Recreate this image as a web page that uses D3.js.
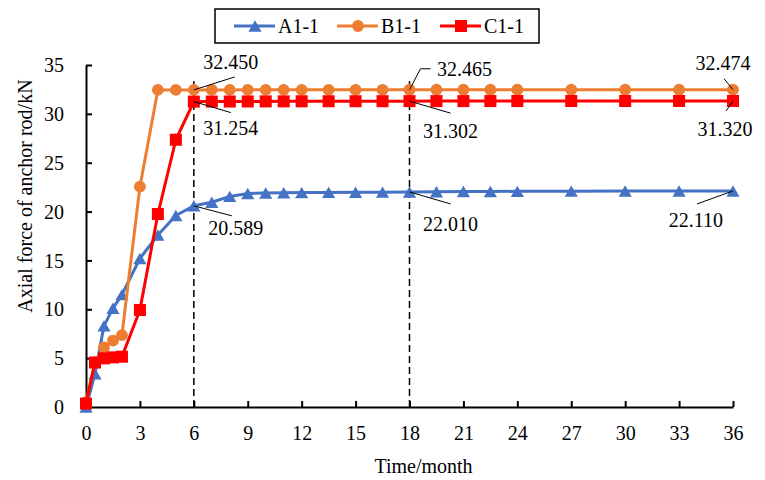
<!DOCTYPE html>
<html>
<head>
<meta charset="utf-8">
<script src="https://cdn.jsdelivr.net/npm/d3@7"></script>
<style>
  html, body { margin: 0; padding: 0; background: #fff; }
  svg { display: block; }
  text { font-family: "Liberation Serif", "Times New Roman", serif !important; fill: #000; }
</style>
</head>
<body>
<svg id="chart" width="765" height="480"></svg>
<script>
// ---------- data ----------
const months = [0, 0.5, 1, 1.5, 2, 3, 4, 5, 6, 7, 8, 9, 10, 11, 12, 13.5, 15, 16.5, 18, 19.5, 21, 22.5, 24, 27, 30, 33, 36];
const seriesNames = ["A1-1", "B1-1", "C1-1"];
const valuesA1 = [0, 3.4, 8.3, 10.1, 11.5, 15.2, 17.6, 19.6, 20.589, 20.95, 21.55, 21.85, 21.9, 21.92, 21.94, 21.96, 21.98, 21.99, 22.010, 22.03, 22.05, 22.06, 22.07, 22.09, 22.1, 22.1, 22.110];
const valuesB1 = [0.5, 4.6, 6.1, 6.8, 7.35, 22.55, 32.45, 32.45, 32.450, 32.452, 32.454, 32.455, 32.456, 32.457, 32.458, 32.459, 32.46, 32.462, 32.465, 32.466, 32.467, 32.468, 32.469, 32.47, 32.472, 32.473, 32.474];
const valuesC1 = [0.35, 4.55, 4.98, 5.08, 5.15, 9.93, 19.75, 27.35, 31.254, 31.26, 31.265, 31.27, 31.275, 31.28, 31.285, 31.29, 31.293, 31.297, 31.302, 31.305, 31.307, 31.31, 31.312, 31.315, 31.317, 31.318, 31.320];
const xTicks = [0, 3, 6, 9, 12, 15, 18, 21, 24, 27, 30, 33, 36];
const yTicks = [0, 5, 10, 15, 20, 25, 30, 35];
const markLines = [6, 18];
// annotations: series index, month, label
const annSeries = [1, 2, 0, 1, 2, 0, 1, 2, 0];
const annMonths = [6, 6, 6, 18, 18, 18, 36, 36, 36];
const annLabels = ["32.450", "31.254", "20.589", "32.465", "31.302", "22.010", "32.474", "31.320", "22.110"];

const colors = ["#4472C4", "#ED7D31", "#FF0000"];
const shapes = [d3.symbolTriangle, d3.symbolCircle, d3.symbolSquare];
const symSizes = [75, 110, 145];
const symShift = [1.9, 0, 0]; // centre triangle bounding box on the point
const allValues = [valuesA1, valuesB1, valuesC1];

// ---------- scales ----------
const svg = d3.select("#chart");
const x = d3.scaleLinear().domain([0, 36]).range([86, 733]);
const y = d3.scaleLinear().domain([0, 35]).range([407, 65]);

// ---------- axes ----------
const xAxis = d3.axisBottom(x).tickValues(xTicks).tickSizeInner(-6).tickSizeOuter(0).tickPadding(0);
const gx = svg.append("g").attr("transform", `translate(0,${y(0)})`).call(xAxis);
gx.attr("font-family", null);
gx.select(".domain").attr("stroke", "#000").attr("stroke-width", 2);
gx.selectAll(".tick line").attr("stroke", "#000").attr("stroke-width", 2);
gx.selectAll(".tick text").attr("font-size", 20)
  .attr("y", 32.5).attr("dy", 0).attr("fill", "#000");

const yAxis = d3.axisLeft(y).tickValues(yTicks).tickSizeInner(-6).tickSizeOuter(0).tickPadding(0);
const gy = svg.append("g").attr("transform", `translate(${x(0)},0)`).call(yAxis);
gy.attr("font-family", null);
gy.select(".domain").attr("stroke", "#000").attr("stroke-width", 2);
gy.selectAll(".tick line").attr("stroke", "#000").attr("stroke-width", 2);
gy.selectAll(".tick text").attr("font-size", 20)
  .attr("x", -22).attr("dy", "0.33em").attr("fill", "#000");

// axis titles
svg.append("text").attr("x", (x(0) + x(36)) / 2 + 14).attr("y", 473)
  .attr("text-anchor", "middle").attr("font-size", 20).text("Time/month");
svg.append("text").attr("transform", `translate(32,${196}) rotate(-90)`)
  .attr("text-anchor", "middle").attr("font-size", 20).text("Axial force of anchor rod/kN");

// dashed reference lines
svg.selectAll(".vline").data(markLines).enter().append("line")
  .attr("x1", d => x(d)).attr("x2", d => x(d))
  .attr("y1", y(0)).attr("y2", y(33.5))
  .attr("stroke", "#000").attr("stroke-width", 1.5).attr("stroke-dasharray", "7,4");

// ---------- series ----------
const line = d3.line().x((d, i) => x(months[i])).y(d => y(d));
allValues.forEach((vals, s) => {
  const g = svg.append("g");
  g.append("path").datum(vals).attr("d", line)
    .attr("fill", "none").attr("stroke", colors[s]).attr("stroke-width", 3).attr("stroke-linejoin", "round");
  g.selectAll("path.m").data(vals).enter().append("path").attr("class", "m")
    .attr("d", d3.symbol().type(shapes[s]).size(symSizes[s]))
    .attr("transform", (d, i) => `translate(${x(months[i])},${y(d) + symShift[s]})`)
    .attr("fill", colors[s]);
});

// ---------- annotations ----------
// offsets (text centre, leader end) relative to the point
const annOffsets = [
  { tx: 37, ty: -28, lx: 41, ly: -13 },
  { tx: 37, ty: 27, lx: 37, ly: 11 },
  { tx: 42, ty: 23, lx: 38, ly: 10 },
  { tx: 55, ty: -20, lx: 11, ly: -21, hx: 21 },
  { tx: 41, ty: 30, lx: 41, ly: 12 },
  { tx: 41, ty: 32, lx: 41, ly: 12 },
  { tx: -10, ty: -26, lx: -9, ly: -11 },
  { tx: -8, ty: 28, lx: -7, ly: 10 },
  { tx: -37, ty: 29, lx: -36, ly: 13 }
];
annLabels.forEach((lab, k) => {
  const s = annSeries[k];
  const i = months.indexOf(annMonths[k]);
  const px = x(months[i]), py = y(allValues[s][i]);
  const o = annOffsets[k];
  let pts = [[px, py], [px + o.lx, py + o.ly]];
  if (o.hx !== undefined) pts.push([px + o.hx, py + o.ly]);
  svg.append("path").attr("d", d3.line()(pts)).attr("fill", "none").attr("stroke", "#000").attr("stroke-width", 1);
  svg.append("text").attr("x", px + o.tx).attr("y", py + o.ty + 6.6)
    .attr("text-anchor", "middle").attr("font-size", 20).text(lab);
});

// ---------- legend ----------
const lg = svg.append("g");
lg.append("rect").attr("x", 215).attr("y", 9).attr("width", 324).attr("height", 34)
  .attr("fill", "#fff").attr("stroke", "#000").attr("stroke-width", 1.5);
const legX = [234, 337, 440];
seriesNames.forEach((nm, s) => {
  const lx = legX[s];
  lg.append("line").attr("x1", lx).attr("x2", lx + 41).attr("y1", 26).attr("y2", 26)
    .attr("stroke", colors[s]).attr("stroke-width", 3);
  lg.append("path").attr("d", d3.symbol().type(shapes[s]).size(symSizes[s]))
    .attr("transform", `translate(${lx + 21},${26 + symShift[s]})`).attr("fill", colors[s]);
  lg.append("text").attr("x", lx + 44).attr("y", 32.6).attr("font-size", 20).text(nm);
});
</script>
</body>
</html>
